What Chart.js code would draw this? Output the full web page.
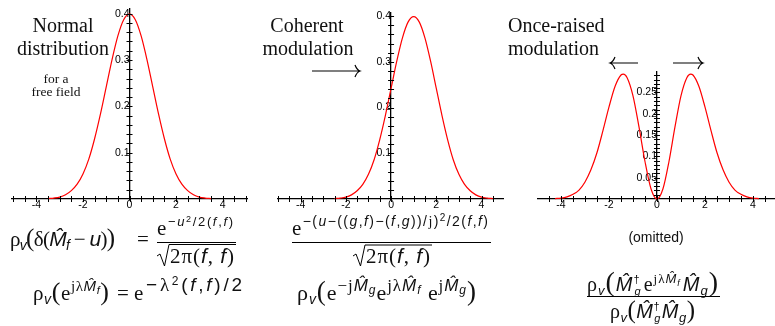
<!DOCTYPE html>
<html><head><meta charset="utf-8">
<script src="https://cdn.jsdelivr.net/npm/chart.js@4.4.1/dist/chart.umd.min.js"></script>
<style>
html,body{margin:0;padding:0;background:#fff;}
body{width:775px;height:326px;position:relative;overflow:hidden;}
canvas{position:absolute;top:0;}
svg{position:absolute;left:0;top:0;}
.sr{font-family:"Liberation Serif","DejaVu Serif",serif;font-style:normal;}
.ss{font-family:"Liberation Sans","DejaVu Sans",sans-serif;font-style:italic;}
.su{font-family:"Liberation Sans","DejaVu Sans",sans-serif;font-style:normal;}
text{white-space:pre;fill:#111;}
</style></head><body>
<canvas id="c1" width="260" height="215" style="left:0"></canvas>
<canvas id="c2" width="260" height="215" style="left:260px"></canvas>
<canvas id="c3" width="255" height="215" style="left:520px"></canvas>
<svg width="775" height="326" viewBox="0 0 775 326">
<!-- titles -->
<text class="sr" x="63" y="32" font-size="20" text-anchor="middle">Normal</text>
<text class="sr" x="63" y="55" font-size="20" text-anchor="middle">distribution</text>
<text class="sr" x="56" y="83" font-size="13.5" text-anchor="middle">for a</text>
<text class="sr" x="56" y="96" font-size="13.5" text-anchor="middle">free field</text>
<text class="sr" x="307" y="32" font-size="20" text-anchor="middle">Coherent</text>
<text class="sr" x="308" y="55" font-size="20" text-anchor="middle">modulation</text>
<text class="sr" x="508" y="32" font-size="20">Once-raised</text>
<text class="sr" x="508" y="55" font-size="20">modulation</text>
<!-- arrows -->
<g stroke="#000" stroke-width="1.2" fill="none">
<path d="M312,71 L360,71 M355,65 Q357,70 360,71 Q357,72 355,77"/>
<path d="M638,63 L610,63 M615,57 Q613,62 610,63 Q613,64 615,69"/>
<path d="M673,63 L703,63 M698,57 Q700,62 703,63 Q700,64 698,69"/>
</g>
<!-- formula 1 -->
<text class="sr" x="10" y="246" font-size="21" textLength="105" lengthAdjust="spacing">ρ<tspan class="ss" font-size="14" dy="4">v</tspan><tspan font-size="25" dy="-4">(</tspan>δ(<tspan class="ss">M̂</tspan><tspan class="ss" font-size="14" dy="4">f</tspan><tspan dy="-4"> − </tspan><tspan class="ss">u</tspan>)<tspan font-size="25">)</tspan></text>
<text class="sr" x="137" y="246" font-size="21">=</text>
<text class="sr" x="157" y="235" font-size="21" textLength="76" lengthAdjust="spacing">e<tspan class="su" font-size="13" dy="-9">−</tspan><tspan class="ss" font-size="13">u</tspan><tspan class="su" font-size="9" dy="-4">2</tspan><tspan class="su" font-size="13" dy="4">/2(</tspan><tspan class="ss" font-size="13">f</tspan><tspan class="su" font-size="13">,</tspan><tspan class="ss" font-size="13">f</tspan><tspan class="su" font-size="13">)</tspan></text>
<line x1="157" x2="236" y1="242.5" y2="242.5" stroke="#000" stroke-width="1"/>
<path d="M157,256 L160,254 L164.5,266 L169,244.5 L236,244.5" stroke="#000" stroke-width="1" fill="none"/>
<text class="sr" x="170" y="263" font-size="21" textLength="64" lengthAdjust="spacing">2π(<tspan class="ss">f</tspan>, <tspan class="ss">f</tspan>)</text>
<text class="sr" x="33" y="300" font-size="21" textLength="76" lengthAdjust="spacing">ρ<tspan class="ss" font-size="14" dy="4">v</tspan><tspan font-size="26" dy="-4">(</tspan>e<tspan font-size="15" dy="-9">jλ</tspan><tspan class="ss" font-size="15">M̂</tspan><tspan class="ss" font-size="11" dy="3">f</tspan><tspan font-size="26" dy="6">)</tspan></text>
<text class="sr" x="117" y="300" font-size="21">=</text>
<text class="sr" x="134" y="300" font-size="21" textLength="108" lengthAdjust="spacing">e<tspan class="su" font-size="19" dy="-9">−</tspan><tspan font-size="19">λ</tspan><tspan class="su" font-size="12" dy="-6">2</tspan><tspan class="su" font-size="19" dy="6">(</tspan><tspan class="ss" font-size="19">f</tspan><tspan class="su" font-size="19">,</tspan><tspan class="ss" font-size="19">f</tspan><tspan class="su" font-size="19">)/2</tspan></text>
<!-- formula 2 -->
<text class="sr" x="292" y="235" font-size="21" textLength="196" lengthAdjust="spacing">e<tspan class="su" font-size="14" dy="-9">−(</tspan><tspan class="ss" font-size="14">u</tspan><tspan class="su" font-size="14">−((</tspan><tspan class="ss" font-size="14">g</tspan><tspan class="su" font-size="14">,</tspan><tspan class="ss" font-size="14">f</tspan><tspan class="su" font-size="14">)−(</tspan><tspan class="ss" font-size="14">f</tspan><tspan class="su" font-size="14">,</tspan><tspan class="ss" font-size="14">g</tspan><tspan class="su" font-size="14">))/</tspan><tspan font-size="14">j</tspan><tspan class="su" font-size="14">)</tspan><tspan class="su" font-size="10" dy="-5">2</tspan><tspan class="su" font-size="14" dy="5">/2(</tspan><tspan class="ss" font-size="14">f</tspan><tspan class="su" font-size="14">,</tspan><tspan class="ss" font-size="14">f</tspan><tspan class="su" font-size="14">)</tspan></text>
<line x1="292" x2="491" y1="242.5" y2="242.5" stroke="#000" stroke-width="1"/>
<path d="M353,256 L356,254 L360.5,266 L365,245 L432,245" stroke="#000" stroke-width="1" fill="none"/>
<text class="sr" x="366" y="263" font-size="21" textLength="64" lengthAdjust="spacing">2π(<tspan class="ss">f</tspan>, <tspan class="ss">f</tspan>)</text>
<text class="sr" x="297" y="300" font-size="22" textLength="179" lengthAdjust="spacing">ρ<tspan class="ss" font-size="14" dy="4">v</tspan><tspan font-size="27" dy="-4">(</tspan>e<tspan font-size="17" dy="-9">−j</tspan><tspan class="ss" font-size="17">M̂</tspan><tspan class="ss" font-size="12" dy="3">g</tspan><tspan dy="6">e</tspan><tspan font-size="17" dy="-9">jλ</tspan><tspan class="ss" font-size="17">M̂</tspan><tspan class="ss" font-size="12" dy="3">f</tspan><tspan dy="6"> e</tspan><tspan font-size="17" dy="-9">j</tspan><tspan class="ss" font-size="17">M̂</tspan><tspan class="ss" font-size="12" dy="3">g</tspan><tspan font-size="27" dy="6">)</tspan></text>
<!-- formula 3 -->
<text class="su" x="656" y="242" font-size="14" text-anchor="middle">(omitted)</text>
<text class="sr" x="587" y="291" font-size="20" textLength="131" lengthAdjust="spacing">ρ<tspan class="ss" font-size="13" dy="4">v</tspan><tspan font-size="28" dy="-4">(</tspan><tspan class="ss">M̂</tspan><tspan class="su" font-size="11" dy="-8">†</tspan><tspan class="ss" font-size="11" dx="-6" dy="12">g</tspan><tspan dx="2" dy="-4">e</tspan><tspan font-size="13" dy="-8">jλ</tspan><tspan class="ss" font-size="13">M̂</tspan><tspan class="ss" font-size="9" dy="3">f</tspan><tspan class="ss" dx="2" dy="5">M̂</tspan><tspan class="ss" font-size="13" dy="4">g</tspan><tspan font-size="28" dy="-4">)</tspan></text>
<line x1="587" x2="720" y1="296.5" y2="296.5" stroke="#000" stroke-width="1"/>
<text class="sr" x="610" y="318" font-size="20" textLength="85" lengthAdjust="spacing">ρ<tspan class="ss" font-size="13" dy="4">v</tspan><tspan font-size="25" dy="-4">(</tspan><tspan class="ss">M̂</tspan><tspan class="su" font-size="11" dy="-8">†</tspan><tspan class="ss" font-size="11" dx="-6" dy="12">g</tspan><tspan class="ss" dx="1" dy="-4">M̂</tspan><tspan class="ss" font-size="13" dy="4">g</tspan><tspan font-size="25" dy="-4">)</tspan></text>
</svg>
<script>
// ---- data ----
const normX = [-3.5,-3.25,-3,-2.75,-2.5,-2.25,-2,-1.75,-1.5,-1.25,-1,-0.75,-0.5,-0.25,0,0.25,0.5,0.75,1,1.25,1.5,1.75,2,2.25,2.5,2.75,3,3.25,3.5];
const normY = [0.001,0.002,0.004,0.009,0.018,0.032,0.054,0.086,0.130,0.183,0.242,0.301,0.352,0.387,0.399,0.387,0.352,0.301,0.242,0.183,0.130,0.086,0.054,0.032,0.018,0.009,0.004,0.002,0.001];
const cohX = [-2.5,-2.25,-2,-1.75,-1.5,-1.25,-1,-0.75,-0.5,-0.25,0,0.25,0.5,0.75,1,1.25,1.5,1.75,2,2.25,2.5,2.75,3,3.25,3.5,3.75,4,4.25,4.5];
const cohY = [0.001,0.002,0.004,0.009,0.018,0.032,0.054,0.086,0.130,0.183,0.242,0.301,0.352,0.387,0.399,0.387,0.352,0.301,0.242,0.183,0.130,0.086,0.054,0.032,0.018,0.009,0.004,0.002,0.001];
const raisedX = [-4.25,-4,-3.75,-3.5,-3.25,-3,-2.75,-2.5,-2.25,-2,-1.75,-1.5,-1.4,-1.25,-1,-0.75,-0.5,-0.25,0,0.25,0.5,0.75,1,1.25,1.4,1.5,1.75,2,2.25,2.5,2.75,3,3.25,3.5,3.75,4,4.25];
const raisedY = [0.001,0.002,0.005,0.011,0.021,0.040,0.069,0.109,0.161,0.216,0.264,0.291,0.293,0.285,0.242,0.169,0.088,0.024,0,0.024,0.088,0.169,0.242,0.285,0.293,0.291,0.264,0.216,0.161,0.109,0.069,0.040,0.021,0.011,0.005,0.002,0.001];
const xTickLabels = ["-4","-2","0","2","4"];
const yTickLabelsA = ["0.1","0.2","0.3","0.4"];
const yTickLabelsB = ["0.05","0.1","0.15","0.2","0.25"];

const crossTicks = {
  id: 'crossTicks',
  afterDraw(chart) {
    const {ctx, scales: {x, y}} = chart;
    const y0 = y.getPixelForValue(0), x0 = x.getPixelForValue(0);
    ctx.save();
    ctx.strokeStyle = '#000';
    ctx.lineWidth = 1;
    x.ticks.forEach(t => {
      const px = Math.round(x.getPixelForValue(t.value)) + 0.5;
      ctx.beginPath(); ctx.moveTo(px, y0 - 3); ctx.lineTo(px, y0 + 3); ctx.stroke();
    });
    y.ticks.forEach(t => {
      if (t.value === 0) return;
      const py = Math.round(y.getPixelForValue(t.value)) + 0.5;
      ctx.beginPath(); ctx.moveTo(x0 - 3, py); ctx.lineTo(x0 + 3, py); ctx.stroke();
    });
    ctx.restore();
  }
};

function pick(labels) {
  return v => {
    const f = labels.find(l => Math.abs(parseFloat(l) - v) < 1e-9);
    return f === undefined ? '' : f;
  };
}
function zeroPad(s) { s.paddingLeft = 0; s.paddingRight = 0; s.paddingTop = 0; s.paddingBottom = 0; }

function makeChart(id, xs, ys, xmin, xmax, ymax, yStep, yLabels, pad) {
  const pts = xs.map((x, i) => ({x, y: ys[i]}));
  const tickFont = {family: '"Liberation Sans", Arial, sans-serif', size: 10.5};
  new Chart(document.getElementById(id), {
    type: 'line',
    data: {datasets: [{data: pts, borderColor: 'rgb(255,0,0)', borderWidth: 1.2, pointRadius: 0,
      cubicInterpolationMode: 'monotone', fill: false, clip: 6}]},
    options: {
      responsive: false, animation: false,
      layout: {padding: pad},
      plugins: {legend: {display: false}, tooltip: {enabled: false}},
      scales: {
        x: {type: 'linear', min: xmin, max: xmax, position: {y: 0},
          grid: {display: false, drawTicks: false},
          border: {color: '#000', width: 1.3},
          ticks: {stepSize: 0.5, includeBounds: false, autoSkip: false, maxRotation: 0, padding: 0,
            color: '#000', font: tickFont, callback: pick(xTickLabels)},
          afterFit: zeroPad},
        y: {type: 'linear', min: 0, max: ymax, position: {x: 0},
          grid: {display: false, drawTicks: false},
          border: {color: '#000', width: 1.3},
          ticks: {stepSize: yStep, includeBounds: false, autoSkip: false, padding: 0,
            color: '#000', font: tickFont, callback: pick(yLabels)},
          afterFit: zeroPad}
      }
    },
    plugins: [crossTicks]
  });
}

makeChart('c1', normX, normY, -5.05, 5.05, 0.41, 0.02, yTickLabelsA, {left: 12, right: 13, top: 9, bottom: 16});
makeChart('c2', cohX, cohY, -5.0, 4.95, 0.407, 0.02, yTickLabelsA, {left: 18, right: 17, top: 13, bottom: 16});
makeChart('c3', raisedX, raisedY, -4.96, 4.92, 0.298, 0.01, yTickLabelsB, {left: 18, right: 0, top: 72, bottom: 16});
</script>
</body></html>
